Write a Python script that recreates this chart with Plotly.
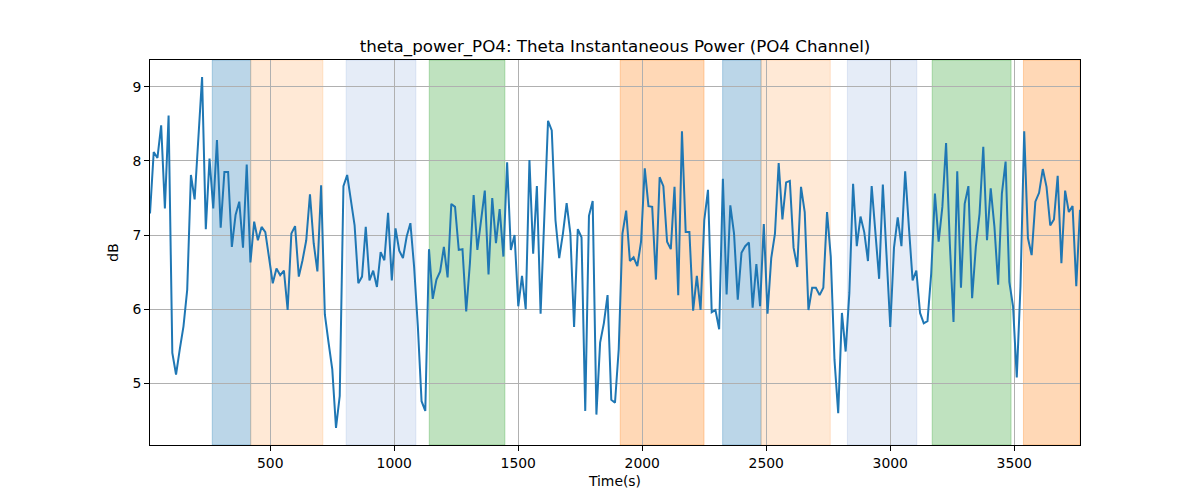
import plotly.graph_objects as go

# time axis: samples every 15 s
time = list(range(15, 3766, 15))

power = [
    7.29, 8.12, 8.04, 8.48, 7.36, 8.61, 5.41, 5.12, 5.46, 5.77, 6.26, 7.81, 7.48, 8.32, 9.13, 7.08, 8.03, 7.36, 8.28, 7.10,
    7.85, 7.85, 6.84, 7.27, 7.45, 6.83, 7.95, 6.63, 7.18, 6.93, 7.11, 7.04, 6.66, 6.35, 6.55, 6.46, 6.52, 5.99, 7.02, 7.12,
    6.44,
    6.66, 6.93, 7.55, 6.89, 6.51, 7.67, 5.93, 5.55, 5.19, 4.40, 4.83, 7.66, 7.81, 7.47, 7.13, 6.35, 6.44, 7.11, 6.39, 6.52,
    6.30, 6.77, 6.66, 7.30, 6.39, 7.09, 6.79, 6.69, 6.98, 7.16, 6.57, 5.77, 4.76, 4.63, 6.81, 6.14, 6.40, 6.51, 6.84, 6.43,
    7.42, 7.38,
    6.80, 6.81, 5.97, 6.62, 7.54, 6.80, 7.20, 7.60, 6.47, 7.50, 6.89, 7.35, 6.71, 7.98, 6.80, 7.00, 6.04, 6.45, 6.00, 8.01,
    6.75, 7.66, 5.94, 7.25, 8.54, 8.41, 7.20, 6.69, 7.02, 7.43, 7.02, 5.76, 7.08, 6.97, 4.63, 7.26, 7.46, 4.58, 5.55, 5.81,
    6.19,
    4.78, 4.74, 5.46, 7.02, 7.33, 6.65, 6.70, 6.58, 6.91, 7.90, 7.39, 7.38, 6.40, 7.78, 7.66, 6.91, 6.81, 7.65, 6.19, 8.40,
    7.04, 7.04, 5.98, 6.45, 5.99, 7.20, 7.61, 5.96, 5.99, 5.73, 7.76, 6.20, 7.40, 7.02, 6.13, 6.76, 6.85, 6.90, 6.02, 6.61,
    6.04, 7.15, 5.94, 6.69, 7.02, 7.97, 7.21, 7.71, 7.73, 6.83, 6.57, 7.65, 7.31, 5.99, 6.29, 6.29, 6.19, 6.29, 7.31, 6.71,
    5.32, 4.60, 5.95, 5.43, 6.22, 7.69, 6.85, 7.25, 7.04, 6.65, 7.66, 7.02, 6.41, 7.68, 6.66, 5.76, 6.83, 7.24, 6.85, 7.86,
    7.11, 6.39, 6.52, 5.95, 5.81, 5.84, 6.48, 7.56, 6.91, 7.38, 8.24, 6.89, 5.83, 7.86, 6.29, 7.42, 7.66, 6.15, 6.84, 7.29,
    8.19, 6.93, 7.63, 7.11, 6.33, 7.56, 7.99, 6.37, 6.04, 5.08, 6.31, 8.40, 6.96, 6.73, 7.45, 7.57, 7.89, 7.65, 7.13, 7.21,
    7.80, 6.62, 7.60, 7.31, 7.39, 6.31, 7.34,
]

span_starts = [266, 421, 806, 1141, 1911, 2324, 2479, 2827, 3169, 3537]
span_ends = [421, 712, 1087, 1446, 2249, 2479, 2758, 3107, 3487, 3765]
span_colors = [
    "rgba(31,119,180,0.3)",
    "rgba(255,127,14,0.17)",
    "rgba(70,120,200,0.14)",
    "rgba(44,160,44,0.3)",
    "rgba(255,127,14,0.3)",
    "rgba(31,119,180,0.3)",
    "rgba(255,127,14,0.17)",
    "rgba(70,120,200,0.14)",
    "rgba(44,160,44,0.3)",
    "rgba(255,127,14,0.3)",
]

x_ticks = [500, 1000, 1500, 2000, 2500, 3000, 3500]
y_ticks = [5, 6, 7, 8, 9]

title_text = "theta_power_PO4: Theta Instantaneous Power (PO4 Channel)"

fig = go.Figure()
fig.add_trace(go.Scatter(x=time, y=power, mode="lines",
                         line=dict(color="#1f77b4", width=2), showlegend=False))

for s, e, c in zip(span_starts, span_ends, span_colors):
    fig.add_shape(type="rect", xref="x", yref="paper", x0=s, x1=e, y0=0, y1=1,
                  fillcolor=c, line=dict(color=c, width=1), layer="below")

font = "DejaVu Sans, sans-serif"
fig.update_layout(
    width=1200, height=500,
    margin=dict(l=150, r=120, t=60, b=55),
    paper_bgcolor="white", plot_bgcolor="white",
    font=dict(family=font, size=14, color="black"),
    title=dict(text=title_text, x=0.5125, xanchor="center", y=1 - 46 / 500, yanchor="middle",
               yref="container", font=dict(size=16.7, family=font, color="black")),
)
fig.update_xaxes(
    range=[15, 3765], tickvals=x_ticks, ticks="outside", ticklen=5, tickwidth=1, tickcolor="black",
    showgrid=True, gridcolor="#b0b0b0", gridwidth=1, zeroline=False,
    showline=True, linecolor="black", linewidth=1, mirror=True,
    title=dict(text="Time(s)", font=dict(size=13.9), standoff=6), tickfont=dict(size=13.9),
)
fig.update_yaxes(
    range=[4.17, 9.36], tickvals=y_ticks, ticks="outside", ticklen=5, tickwidth=1, tickcolor="black",
    showgrid=True, gridcolor="#b0b0b0", gridwidth=1, zeroline=False,
    showline=True, linecolor="black", linewidth=1, mirror=True,
    title=dict(text="dB", font=dict(size=13.9), standoff=10), tickfont=dict(size=13.9),
)

fig.write_html("out.html", config={"displayModeBar": False},
               post_script="document.body.style.margin='0';")
